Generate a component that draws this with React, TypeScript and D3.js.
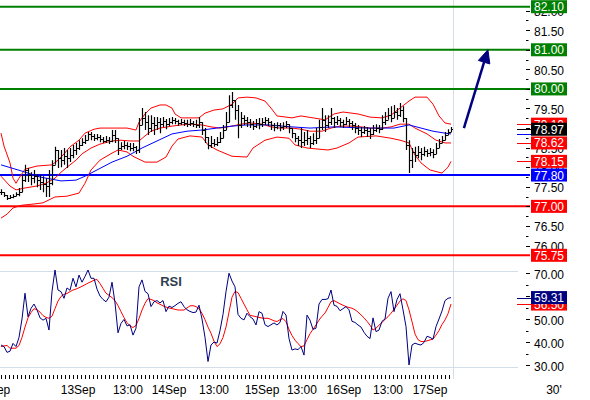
import React from "react";
import * as d3 from "d3";

// ---------- DATA ----------
const closes = [
  77.36, 77.29, 77.21, 77.24, 77.26, 77.31, 77.36, 77.67, 77.93, 77.80,
  77.72, 77.77, 77.67, 77.62, 77.57, 77.52, 77.59, 78.06, 78.44, 78.23,
  78.18, 78.28, 78.23, 78.31, 78.44, 78.49, 78.57, 78.64, 78.69, 78.85,
  78.80, 78.74, 78.77, 78.72, 78.67, 78.69, 78.67, 78.82, 78.74, 78.49,
  78.54, 78.57, 78.54, 78.49, 78.52, 78.44, 79.08, 79.26, 79.15, 79.00,
  79.13, 79.08, 79.15, 79.10, 79.18, 79.10, 79.15, 79.21, 79.18, 79.13,
  79.15, 79.13, 79.10, 79.13, 79.10, 79.08, 79.15, 78.95, 78.77, 78.57,
  78.62, 78.59, 78.64, 78.74, 78.95, 79.15, 79.59, 79.72, 79.46, 79.08,
  79.26, 79.21, 79.15, 79.10, 79.05, 79.13, 79.10, 79.15, 79.21, 79.15,
  79.08, 79.03, 79.08, 79.03, 79.05, 79.10, 79.00, 78.87, 78.74, 78.69,
  78.64, 78.69, 78.74, 78.62, 78.69, 78.74, 79.03, 79.21, 79.08, 79.15,
  79.26, 79.15, 79.21, 79.15, 79.10, 79.18, 79.13, 79.08, 79.00, 78.95,
  78.90, 78.95, 78.92, 78.85, 78.95, 79.00, 78.97, 79.15, 79.21, 79.33,
  79.26, 79.41, 79.33, 79.46, 79.26, 78.57, 78.18, 78.39, 78.31, 78.39,
  78.34, 78.41, 78.36, 78.39, 78.34, 78.49, 78.62, 78.69, 78.82, 78.90, 78.97,
];
const highs = [
  77.44, 77.36, 77.29, 77.29, 77.31, 77.36, 77.47, 77.80, 78.06, 77.98,
  77.87, 77.93, 77.82, 77.80, 77.77, 77.72, 77.93, 78.18, 78.52, 78.44,
  78.44, 78.49, 78.44, 78.49, 78.57, 78.62, 78.69, 78.74, 78.82, 78.90,
  78.90, 78.85, 78.85, 78.82, 78.77, 78.80, 78.77, 78.95, 78.95, 78.74,
  78.64, 78.67, 78.64, 78.62, 78.62, 78.54, 79.26, 79.51, 79.41, 79.33,
  79.33, 79.28, 79.28, 79.26, 79.28, 79.23, 79.26, 79.28, 79.26, 79.21,
  79.23, 79.21, 79.21, 79.23, 79.18, 79.21, 79.28, 79.15, 79.00, 78.77,
  78.80, 78.72, 78.77, 78.90, 79.08, 79.41, 79.84, 79.92, 79.72, 79.59,
  79.41, 79.33, 79.28, 79.23, 79.18, 79.23, 79.26, 79.26, 79.28, 79.26,
  79.18, 79.13, 79.15, 79.13, 79.15, 79.18, 79.10, 79.00, 78.87, 78.80,
  79.00, 78.90, 78.95, 78.80, 78.87, 79.00, 79.21, 79.51, 79.33, 79.33,
  79.51, 79.28, 79.31, 79.26, 79.21, 79.28, 79.23, 79.18, 79.13, 79.08,
  79.03, 79.05, 79.03, 79.00, 79.08, 79.10, 79.08, 79.33, 79.41, 79.51,
  79.56, 79.59, 79.51, 79.64, 79.56, 79.26, 78.69, 78.49, 78.52, 78.54,
  78.49, 78.52, 78.46, 78.49, 78.46, 78.62, 78.72, 78.80, 78.90, 78.97, 79.03,
];
const lows = [
  77.29, 77.24, 77.16, 77.19, 77.21, 77.26, 77.26, 77.36, 77.62, 77.62,
  77.54, 77.59, 77.49, 77.42, 77.36, 77.24, 77.24, 77.54, 78.06, 77.98,
  78.00, 78.06, 77.98, 78.13, 78.23, 78.31, 78.44, 78.54, 78.59, 78.69,
  78.69, 78.67, 78.69, 78.64, 78.62, 78.62, 78.59, 78.64, 78.62, 78.31,
  78.44, 78.46, 78.44, 78.41, 78.41, 78.34, 78.36, 79.08, 78.95, 78.82,
  78.90, 78.82, 78.95, 78.87, 79.03, 78.97, 79.05, 79.10, 79.10, 79.05,
  79.08, 79.05, 79.03, 79.05, 79.03, 79.00, 79.00, 78.82, 78.62, 78.46,
  78.49, 78.52, 78.54, 78.62, 78.74, 78.95, 79.15, 79.51, 79.21, 78.74,
  79.00, 79.08, 79.03, 79.00, 78.95, 79.00, 78.97, 79.03, 79.08, 79.05,
  78.95, 78.92, 78.97, 78.92, 78.95, 79.00, 78.87, 78.74, 78.64, 78.54,
  78.49, 78.54, 78.57, 78.49, 78.57, 78.59, 78.82, 78.95, 78.90, 79.00,
  79.08, 79.00, 79.08, 79.03, 79.00, 79.08, 79.03, 78.95, 78.87, 78.82,
  78.77, 78.85, 78.77, 78.72, 78.82, 78.90, 78.87, 78.95, 79.08, 79.21,
  79.15, 79.26, 79.21, 79.28, 79.15, 78.44, 77.85, 77.98, 78.13, 78.23,
  78.18, 78.28, 78.26, 78.28, 78.23, 78.34, 78.49, 78.62, 78.69, 78.82, 78.90,
];

// Bollinger bands and moving average: [bar index, price]
const bbUpper: [number, number][] = [
  [0, 78.87], [1, 78.54], [3, 78.11], [4, 77.72], [5, 77.59], [6, 77.72], [8, 77.95],
  [12, 78.03], [17, 78.06], [19, 78.18], [21, 78.34], [23, 78.52], [26, 78.69], [28, 78.87],
  [31, 78.97], [33, 79.0], [38, 79.0], [42, 79.0], [45, 78.95], [46, 79.15], [48, 79.36],
  [50, 79.51], [53, 79.59], [55, 79.59], [57, 79.51], [58, 79.36], [60, 79.26], [66, 79.26],
  [68, 79.38], [71, 79.46], [74, 79.49], [77, 79.61], [79, 79.77], [82, 79.79], [85, 79.77],
  [88, 79.69], [90, 79.51], [92, 79.31], [97, 79.26], [100, 79.31], [104, 79.26], [108, 79.21],
  [111, 79.36], [114, 79.41], [119, 79.36], [123, 79.28], [127, 79.26], [130, 79.33],
  [133, 79.51], [136, 79.69], [138, 79.79], [142, 79.79], [144, 79.61], [146, 79.31],
  [148, 79.13], [150, 79.10],
];
const bbMiddle: [number, number][] = [
  [0, 77.77], [3, 77.52], [5, 77.42], [8, 77.47], [12, 77.52], [15, 77.59], [18, 77.72],
  [20, 77.87], [22, 78.0], [25, 78.18], [27, 78.34], [30, 78.49], [33, 78.59], [37, 78.67],
  [40, 78.69], [43, 78.67], [46, 78.67], [48, 78.8], [50, 78.92], [53, 79.0], [57, 79.05],
  [60, 79.08], [63, 79.1], [67, 79.08], [70, 79.03], [73, 79.0], [77, 79.05], [80, 79.1],
  [83, 79.13], [87, 79.1], [90, 79.03], [93, 79.0], [97, 79.0], [100, 78.97], [103, 78.92],
  [107, 78.92], [110, 79.0], [113, 79.05], [117, 79.05], [120, 79.03], [123, 79.0],
  [127, 79.0], [130, 79.03], [133, 79.1], [136, 79.1], [138, 79.0], [142, 78.85],
  [145, 78.69], [148, 78.62], [150, 78.62],
];
const bbLower: [number, number][] = [
  [0, 76.7], [2, 76.8], [4, 76.96], [7, 77.03], [11, 77.06], [14, 77.09], [18, 77.24],
  [22, 77.26], [26, 77.34], [28, 77.59], [30, 77.93], [33, 78.18], [37, 78.36], [39, 78.44],
  [42, 78.39], [44, 78.28], [48, 78.13], [52, 78.13], [55, 78.26], [57, 78.54], [59, 78.72],
  [63, 78.8], [67, 78.77], [69, 78.57], [72, 78.44], [77, 78.28], [82, 78.26], [84, 78.49],
  [88, 78.69], [92, 78.77], [96, 78.74], [98, 78.57], [102, 78.49], [109, 78.44],
  [112, 78.49], [116, 78.62], [119, 78.77], [125, 78.8], [130, 78.74], [133, 78.69],
  [136, 78.62], [138, 78.31], [140, 78.11], [143, 77.93], [147, 77.85], [149, 78.0],
  [150, 78.15],
];
const maLong: [number, number][] = [
  [0, 78.06], [7, 77.9], [13, 77.75], [20, 77.65], [25, 77.67], [28, 77.77], [32, 77.93],
  [37, 78.13], [42, 78.28], [47, 78.49], [52, 78.67], [57, 78.85], [62, 78.92], [67, 78.95],
  [72, 79.0], [77, 79.05], [82, 79.08], [89, 79.08], [97, 79.03], [103, 79.0], [111, 79.03],
  [122, 79.0], [131, 79.0], [136, 79.08], [140, 79.0], [144, 78.92], [148, 78.87],
  [150, 78.85],
];

const rsi = [
  38.7, 38.0, 35.5, 36.0, 39.4, 38.0, 42.0, 50.0, 61.2, 51.0,
  54.6, 56.5, 54.0, 50.5, 49.5, 50.3, 45.2, 62.0, 71.3, 62.6,
  61.9, 59.0, 63.5, 62.5, 67.7, 64.0, 69.1, 66.0, 68.5, 71.3,
  67.7, 67.7, 63.0, 60.0, 58.5, 57.5, 59.5, 66.0, 57.0, 44.0,
  48.1, 49.8, 47.0, 47.5, 43.0, 46.0, 64.0, 67.0, 62.0, 61.0,
  55.4, 57.5, 58.0, 57.0, 58.0, 53.2, 55.6, 55.0, 55.8, 56.8,
  57.5, 55.4, 54.0, 53.3, 52.8, 53.0, 56.0, 50.0, 42.0, 31.5,
  38.7, 40.0, 39.5, 45.0, 52.0, 61.9, 69.9, 66.5, 64.0, 52.0,
  50.3, 49.6, 52.5, 51.0, 50.0, 47.4, 53.2, 52.5, 47.5, 46.7,
  47.5, 48.3, 47.4, 48.5, 53.3, 51.7, 41.5, 36.5, 37.0, 36.7,
  38.0, 34.3, 51.7, 49.5, 45.5, 46.0, 56.5, 58.5, 58.5, 58.8,
  62.6, 56.0, 55.5, 53.6, 54.5, 55.4, 54.0, 49.0, 48.5, 47.4,
  46.5, 44.2, 42.5, 41.5, 50.5, 44.5, 45.2, 49.0, 50.0, 59.0,
  61.9, 53.2, 58.5, 61.0, 54.0, 46.7, 30.0, 38.7, 39.5, 39.0,
  38.7, 39.8, 42.5, 42.0, 41.2, 46.7, 50.0, 53.5, 58.0, 59.0, 59.31,
];
const rsiSignal = [
  38.0, 38.3, 38.5, 37.3, 37.3, 37.3, 38.5, 42.0, 46.5, 50.5,
  52.8, 54.5, 54.0, 53.0, 51.5, 50.7, 50.3, 51.2, 54.5, 57.8,
  59.8, 60.7, 61.1, 61.9, 62.6, 63.0, 63.6, 64.2, 64.9, 65.6,
  66.2, 66.9, 67.2, 65.4, 63.3, 61.2, 60.3, 59.3, 58.0, 55.8,
  53.2, 50.6, 48.4, 47.0, 46.3, 47.2, 50.2, 53.9, 56.8, 58.9,
  58.5, 58.0, 57.0, 56.4, 55.7, 55.2, 54.8, 54.5, 54.2, 53.9,
  53.9, 53.9, 54.8, 55.7, 55.8, 55.4, 54.5, 52.5, 49.7, 46.5,
  43.8, 40.3, 38.0, 39.2, 42.0, 46.5, 53.0, 59.5, 62.0, 61.5,
  59.0, 56.5, 54.0, 51.6, 51.3, 51.0, 50.7, 50.4, 50.3, 50.3,
  49.8, 49.2, 48.9, 49.7, 50.2, 48.8, 45.5, 42.8, 40.8, 39.3,
  38.0, 38.3, 41.0, 43.6, 45.5, 47.4, 49.5, 51.2, 52.6, 55.0,
  57.5, 58.0, 57.3, 56.6, 56.0, 55.4, 55.0, 54.7, 54.0, 53.0,
  51.8, 50.5, 49.0, 47.3, 45.2, 46.0, 47.3, 48.5, 49.8, 51.0,
  52.5, 54.2, 56.0, 57.8, 58.8, 58.0, 54.0, 48.8, 43.5, 41.0,
  40.2, 40.2, 40.5, 40.9, 41.3, 43.0, 45.0, 47.6, 49.6, 52.3, 56.5,
];

const levelValues = [82.1, 81.0, 80.0, 77.8, 77.0, 75.75];
const levelKinds = ["target", "target", "target", "pivot", "support", "support"];

const arrowFrom: [number, number] = [154.3, 79.0];
const arrowTo: [number, number] = [162.3, 81.0];

const priceMajorTicks = [76.0, 76.5, 77.0, 77.5, 78.0, 78.5, 79.0, 79.5, 80.0, 80.5, 81.0, 81.5, 82.0];
const rsiMajorTicks = [30, 40, 50, 60, 70];

const timeLabels = ["12Sep", "13Sep", "13:00", "14Sep", "13:00", "15Sep", "13:00", "16Sep", "13:00", "17Sep"];
const timeLabelIdx = [-2.7, 25.7, 42.3, 56, 71, 87, 100.3, 114.3, 129, 143];
const periodLabel = "30'";
const rsiTitle = "RSI";

// ---------- STYLE ----------
const KIND_COLOR: Record<string, string> = { target: "#008000", pivot: "#0000ff", support: "#ff0000" };
const RED = "#ff0000";
const NAVY = "#000080";
const FONT = "Arial, 'Liberation Sans', sans-serif";

export default function App() {
  const W = 590, H = 400;
  const n = closes.length;
  const x = d3.scaleLinear().domain([0, n - 1]).range([1, 451]);
  const y = d3.scaleLinear().domain([75.75, 82.1]).range([255.3, 6.7]);
  const yr = d3.scaleLinear().domain([30, 70]).range([365, 273]);

  const priceLine = d3.line<[number, number]>().x((d) => x(d[0])).y((d) => y(d[1]));
  const rsiLine = d3.line<number>().x((_, i) => x(i)).y((d) => yr(d));

  const plotRight = 530;
  const boxX = 531;
  const boxW = 36;
  const boxH = 13;
  const textX = 534;
  const nowX = 453.5;

  // OHLC bars
  let barPath = "";
  closes.forEach((c, i) => {
    const o = i === 0 ? c : closes[i - 1];
    const ext = d3.extent([highs[i], lows[i], o, c]) as [number, number];
    const xi = Math.round(x(i)) + 0.5;
    barPath += `M${xi},${y(ext[1])}V${y(ext[0])}`;
    barPath += `M${xi - 1.5},${Math.round(y(o)) + 0.5}H${xi}`;
    barPath += `M${xi},${Math.round(y(c)) + 0.5}H${xi + 1.5}`;
  });

  const minorPrice = d3.range(76.0, 82.01, 0.25);
  const minorRsi = d3.range(30, 70.01, 5);
  const hourTicks = d3.range(0, n - 1 + 0.01, 4 / 3);

  // arrow geometry
  const ax0 = x(arrowFrom[0]), ay0 = y(arrowFrom[1]);
  const ax1 = x(arrowTo[0]), ay1 = y(arrowTo[1]);
  const len = Math.hypot(ax1 - ax0, ay1 - ay0);
  const ux = (ax1 - ax0) / len, uy = (ay1 - ay0) / len;
  const headL = 13, headW = 6;
  const bx = ax1 - ux * headL, by = ay1 - uy * headL;
  const head = `M${ax1},${ay1}L${bx - uy * headW},${by + ux * headW}L${bx + uy * headW},${by - ux * headW}Z`;

  const last = (a: [number, number][]) => a[a.length - 1][1];
  const endMarkers = [
    { v: last(bbLower), color: RED, box: true },
    { v: last(bbMiddle), color: RED, box: true },
    { v: last(maLong), color: "#0000ff", box: false },
    { v: last(bbUpper), color: RED, box: true },
    { v: closes[n - 1], color: "#000000", box: true },
  ];

  const Box = ({ cy, fill, label }: { cy: number; fill: string; label: string }) => (
    <g>
      <rect x={boxX} y={cy - boxH / 2} width={boxW} height={boxH} fill={fill} />
      <text x={boxX + boxW / 2} y={cy + 4.5} fill="#fff" fontSize={12} textAnchor="middle" fontFamily={FONT}>
        {label}
      </text>
    </g>
  );

  return (
    <svg width={W} height={H} style={{ position: "absolute", left: 0, top: 0, background: "#fff" }}>
      <rect width={W} height={H} fill="#fff" />
      {/* now line and RSI frame */}
      <line x1={nowX} x2={nowX} y1={0} y2={379} stroke="#d4dee8" strokeWidth={1} />
      <line x1={0} x2={518} y1={271.5} y2={271.5} stroke="#d4dee8" />
      <line x1={0} x2={518} y1={367.5} y2={367.5} stroke="#d4dee8" />

      {/* level lines */}
      {levelValues.map((v, i) => (
        <line key={"lv" + i} x1={0} x2={plotRight} y1={y(v)} y2={y(v)} stroke={KIND_COLOR[levelKinds[i]]} strokeWidth={2} />
      ))}

      {/* indicators */}
      <path d={priceLine(bbUpper) || ""} fill="none" stroke={RED} strokeWidth={1} />
      <path d={priceLine(bbLower) || ""} fill="none" stroke={RED} strokeWidth={1} />
      <path d={priceLine(bbMiddle) || ""} fill="none" stroke={RED} strokeWidth={1} />
      <path d={priceLine(maLong) || ""} fill="none" stroke="#0000ff" strokeWidth={1} />

      {/* bars */}
      <path d={barPath} fill="none" stroke="#000" strokeWidth={1.2} />

      {/* arrow */}
      <line x1={ax0} y1={ay0} x2={bx} y2={by} stroke={NAVY} strokeWidth={2.5} />
      <path d={head} fill={NAVY} stroke={NAVY} strokeWidth={1} />

      {/* price axis */}
      {minorPrice.map((v, i) => (
        <line key={"mp" + i} x1={526} x2={528.5} y1={Math.round(y(v)) + 0.5} y2={Math.round(y(v)) + 0.5} stroke="#000" />
      ))}
      {priceMajorTicks.map((v, i) => (
        <g key={"pt" + i}>
          <line x1={526} x2={530} y1={Math.round(y(v)) + 0.5} y2={Math.round(y(v)) + 0.5} stroke="#000" />
          <text x={textX} y={y(v) + 5.5} fontSize={12} fontFamily={FONT} fill="#000">
            {v.toFixed(2)}
          </text>
        </g>
      ))}

      {/* RSI */}
      <path d={rsiLine(rsiSignal) || ""} fill="none" stroke={RED} strokeWidth={1} />
      <path d={rsiLine(rsi) || ""} fill="none" stroke={NAVY} strokeWidth={1} />
      <text x={171} y={286} fontSize={13} fontWeight="bold" fontFamily={FONT} fill="#2e3e4e" textAnchor="middle">
        {rsiTitle}
      </text>
      {minorRsi.map((v, i) => (
        <line key={"mr" + i} x1={526} x2={528.5} y1={Math.round(yr(v)) + 0.5} y2={Math.round(yr(v)) + 0.5} stroke="#000" />
      ))}
      {rsiMajorTicks.map((v, i) => (
        <g key={"rt" + i}>
          <line x1={526} x2={530} y1={Math.round(yr(v)) + 0.5} y2={Math.round(yr(v)) + 0.5} stroke="#000" />
          <text x={textX} y={yr(v) + 5.5} fontSize={12} fontFamily={FONT} fill="#000">
            {v.toFixed(2)}
          </text>
        </g>
      ))}

      {/* time axis */}
      {hourTicks.map((t, i) => (
        <line key={"ht" + i} x1={Math.round(x(t)) + 0.5} x2={Math.round(x(t)) + 0.5} y1={375} y2={379} stroke="#000" />
      ))}
      {timeLabels.map((t, i) => (
        <text key={"tl" + i} x={x(timeLabelIdx[i])} y={394} fontSize={12} fontFamily={FONT} textAnchor="middle" fill="#000">
          {t}
        </text>
      ))}
      <text x={554} y={394} fontSize={12} fontFamily={FONT} textAnchor="middle" fill="#000">
        {periodLabel}
      </text>

      {/* end markers */}
      {endMarkers.map((m, i) => (
        <line key={"em" + i} x1={517} x2={531} y1={Math.round(y(m.v)) + 0.5} y2={Math.round(y(m.v)) + 0.5} stroke={m.color} />
      ))}
      <line x1={517} x2={531} y1={Math.round(yr(rsiSignal[n - 1])) + 0.5} y2={Math.round(yr(rsiSignal[n - 1])) + 0.5} stroke={RED} />
      <line x1={517} x2={531} y1={Math.round(yr(rsi[n - 1])) + 0.5} y2={Math.round(yr(rsi[n - 1])) + 0.5} stroke={NAVY} />

      {/* level boxes */}
      {levelValues.map((v, i) => (
        <Box key={"lb" + i} cy={y(v)} fill={KIND_COLOR[levelKinds[i]]} label={v.toFixed(2)} />
      ))}
      {endMarkers.filter((m) => m.box).map((m, i) => (
        <Box key={"eb" + i} cy={y(m.v)} fill={m.color} label={m.v.toFixed(2)} />
      ))}
      <Box cy={yr(rsiSignal[n - 1])} fill={RED} label={rsiSignal[n - 1].toFixed(2)} />
      <Box cy={yr(rsi[n - 1])} fill={NAVY} label={rsi[n - 1].toFixed(2)} />
    </svg>
  );
}
